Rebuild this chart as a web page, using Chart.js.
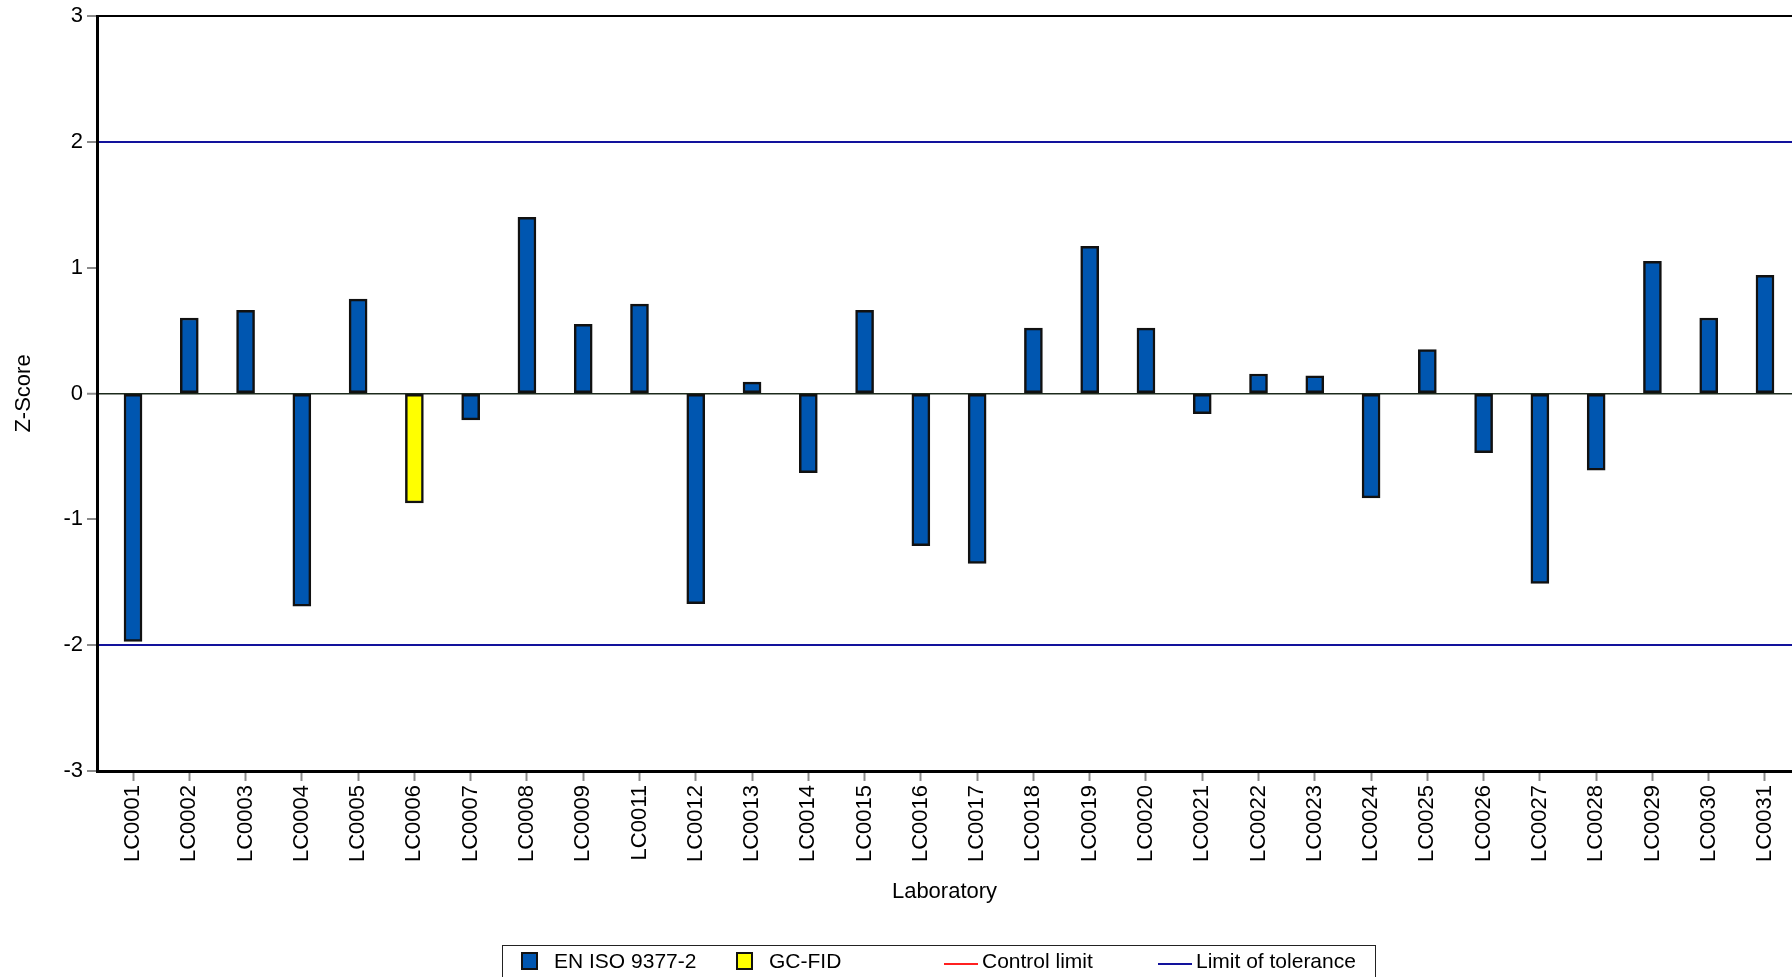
<!DOCTYPE html>
<html>
<head>
<meta charset="utf-8">
<script src="https://cdn.jsdelivr.net/npm/chart.js@4/dist/chart.umd.min.js"></script>
<style>
  html, body { margin: 0; padding: 0; background: #fff; overflow: hidden; }
  #wrap { position: relative; width: 1792px; height: 977px; }
  #chart { position: absolute; left: 0; top: 0; }
  #legend { position: absolute; left: 502px; top: 945px; width: 874px; height: 45px;
    border: 1.5px solid #222; box-sizing: border-box; font: 21px "Liberation Sans", Arial, sans-serif; color: #000; }
  #legend .sw { position: absolute; top: 6px; width: 17px; height: 18px; box-sizing: border-box; border: 2px solid #111; }
  #legend .ln { position: absolute; top: 17px; height: 2px; width: 34px; }
  #legend .tx { position: absolute; top: 4px; line-height: 21px; white-space: nowrap; }
</style>
</head>
<body>
<div id="wrap">
  <canvas id="chart" width="1792" height="977"></canvas>
  <div id="legend"></div>
</div>
<script>
// laboratories (LC0010 did not report)
const labs = ['LC0001', 'LC0002', 'LC0003', 'LC0004', 'LC0005', 'LC0006', 'LC0007', 'LC0008', 'LC0009',
  'LC0011', 'LC0012', 'LC0013', 'LC0014', 'LC0015', 'LC0016', 'LC0017', 'LC0018', 'LC0019', 'LC0020',
  'LC0021', 'LC0022', 'LC0023', 'LC0024', 'LC0025', 'LC0026', 'LC0027', 'LC0028', 'LC0029', 'LC0030', 'LC0031'];

// z-scores by method
const isoZ = [-1.97, 0.60, 0.66, -1.69, 0.75, null, -0.21, 1.40, 0.55,
  0.71, -1.67, 0.09, -0.63, 0.66, -1.21, -1.35, 0.52, 1.17, 0.52,
  -0.16, 0.155, 0.14, -0.83, 0.35, -0.47, -1.51, -0.61, 1.05, 0.60, 0.94];
const gcZ = [null, null, null, null, null, -0.87, null, null, null,
  null, null, null, null, null, null, null, null, null, null,
  null, null, null, null, null, null, null, null, null, null, null];

const yTicks = [-3, -2, -1, 0, 1, 2, 3];
const toleranceLimit = 2;

const ISO_COLOR = '#0056b0';
const GC_COLOR = '#ffff00';
const TOL_COLOR = '#12129c';
const CTRL_COLOR = '#ff2020';

Chart.defaults.font.family = '"Liberation Sans", Arial, sans-serif';
Chart.defaults.font.size = 22;
Chart.defaults.color = '#000';

function points(values) {
  return values.map((v, i) => ({ x: i, y: v })).filter((p) => p.y !== null);
}

function gridColor(ctx) {
  const v = ctx.tick && ctx.tick.value;
  if (Math.abs(v) === toleranceLimit) return TOL_COLOR;
  if (v === 0) return '#1c2a1c';
  if (v === yTicks[yTicks.length - 1] || v === yTicks[0]) return '#000';
  return 'rgba(0,0,0,0)';
}

function gridWidth(ctx) {
  const v = ctx.tick && ctx.tick.value;
  if (v === 0) return 1.5;
  return 2;
}

const barStyle = { barThickness: 18, borderWidth: 2.5, borderColor: '#111', borderSkipped: false, grouped: false };

new Chart(document.getElementById('chart'), {
  type: 'bar',
  data: {
    datasets: [
      { label: 'EN ISO 9377-2', data: points(isoZ), backgroundColor: ISO_COLOR, ...barStyle },
      { label: 'GC-FID', data: points(gcZ), backgroundColor: GC_COLOR, ...barStyle },
    ],
  },
  options: {
    responsive: false,
    animation: false,
    layout: { padding: { top: 16, right: 0, bottom: 72, left: 0 } },
    plugins: { legend: { display: false }, tooltip: { enabled: false } },
    scales: {
      x: {
        type: 'linear',
        offset: false,
        min: -0.64,
        max: 29.48,
        afterFit: (s) => { s.height = 134; s.paddingLeft = 0; s.paddingRight = 0; },
        border: { display: true, color: '#000', width: 3 },
        grid: { offset: false, drawOnChartArea: false, drawTicks: true, tickLength: 10, tickColor: '#8a8a8a', tickWidth: 2 },
        ticks: {
          stepSize: 1,
          includeBounds: false,
          autoSkip: false,
          minRotation: 90,
          maxRotation: 90,
          padding: 4,
          callback: (v) => labs[v] ?? '',
        },
        title: { display: true, text: 'Laboratory', padding: { top: 0, bottom: 0 } },
      },
      y: {
        min: yTicks[0],
        max: yTicks[yTicks.length - 1],
        afterFit: (s) => { s.width = 97; s.paddingTop = 0; s.paddingBottom = 0; },
        border: { display: true, color: '#000', width: 3 },
        grid: { color: gridColor, lineWidth: gridWidth, tickLength: 10, tickColor: '#8a8a8a', tickWidth: 2 },
        ticks: { stepSize: 1, padding: 4 },
        title: { display: true, text: 'Z-Score', padding: { top: 11, bottom: 0 } },
      },
    },
  },
});

// legend
const legendItems = [
  { kind: 'sw', label: 'EN ISO 9377-2', color: ISO_COLOR, at: 18 },
  { kind: 'sw', label: 'GC-FID', color: GC_COLOR, at: 233 },
  { kind: 'ln', label: 'Control limit', color: CTRL_COLOR, at: 441 },
  { kind: 'ln', label: 'Limit of tolerance', color: TOL_COLOR, at: 655 },
];
document.getElementById('legend').innerHTML = legendItems.map((it) => {
  const mark = it.kind === 'sw'
    ? `<div class="sw" style="left:${it.at}px;background:${it.color}"></div>`
    : `<div class="ln" style="left:${it.at}px;background:${it.color}"></div>`;
  const textLeft = it.kind === 'sw' ? it.at + 33 : it.at + 38;
  return mark + `<span class="tx" style="left:${textLeft}px">${it.label}</span>`;
}).join('');
</script>
</body>
</html>
